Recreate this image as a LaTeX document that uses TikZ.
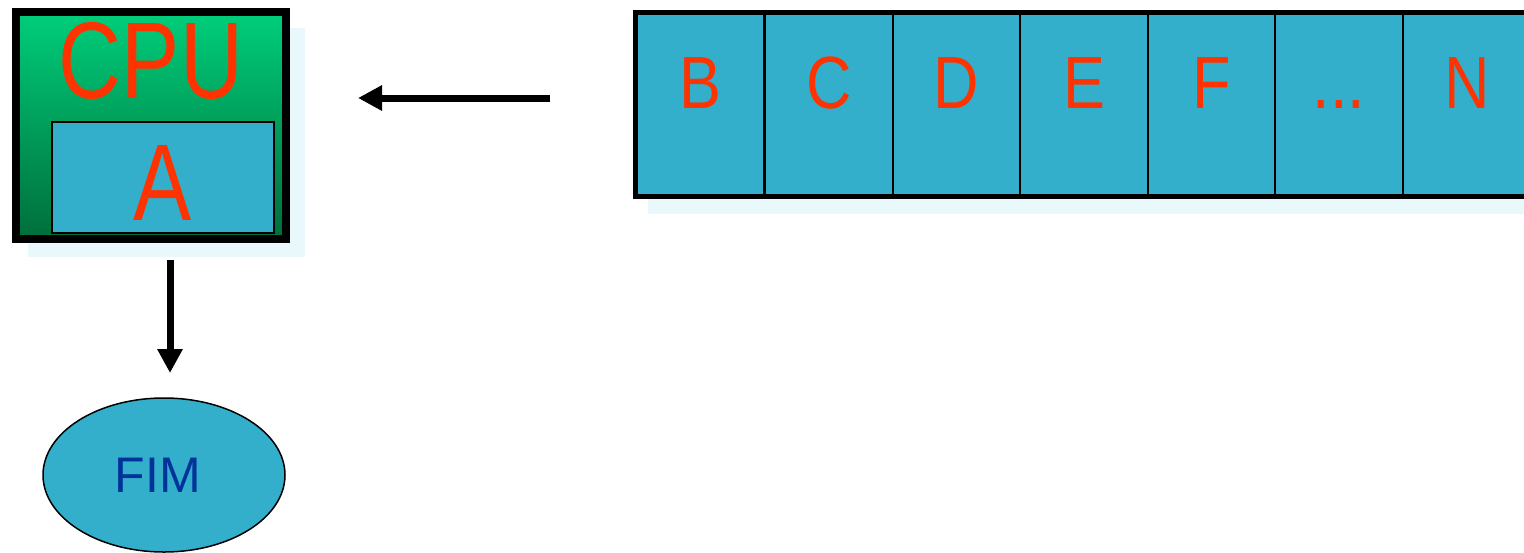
\documentclass[tikz,border=0pt]{standalone}
\usepackage{fontspec}
\setmainfont{Liberation Sans}
\usepackage{graphicx}
\usetikzlibrary{arrows.meta,shapes.geometric}

\definecolor{boxcyan}{RGB}{51,174,203}
\definecolor{labelred}{RGB}{255,51,0}
\definecolor{cputop}{RGB}{0,206,122}
\definecolor{cpubottom}{RGB}{0,110,60}
\definecolor{fimblue}{RGB}{0,51,153}
\definecolor{shadowcyan}{RGB}{232,248,251}

\newcommand{\squeeze}[2]{\scalebox{#1}[1]{#2}}

\begin{document}
\begin{tikzpicture}[x=0.5pt, y=-0.5pt]
	\tikzset{cpubox/.style = {draw, line width=4pt, top color=cputop, bottom color=cpubottom, minimum width=135pt, inner sep=0pt, text height=43pt, text depth=70.5pt, text=labelred, font=\fontsize{54.5}{60}\selectfont}}
	\tikzset{reg/.style = {draw, line width=0.75pt, fill=boxcyan, minimum width=111pt, inner sep=0pt, text height=49.25pt, text depth=6.25pt, text=labelred, font=\fontsize{54.5}{60}\selectfont}}
	\tikzset{cell/.style = {draw, line width=1pt, fill=boxcyan, minimum width=63.75pt, inner sep=0pt, text height=47.75pt, text depth=43.25pt, text=labelred, font=\fontsize{37}{40}\selectfont}}
	\tikzset{endnode/.style = {ellipse, draw, line width=0.75pt, fill=boxcyan, minimum width=121pt, minimum height=77pt, inner sep=0pt, text=fimblue, font=\fontsize{25}{28}\selectfont}}
	\tikzset{edge/.style = {-{Triangle[length=12pt, width=12pt]}, line width=3.5pt}}
	\useasboundingbox (0,0) rectangle (1524,552);
	% soft shadows
	\fill[shadowcyan] (28,28) rectangle (305,257);
	\fill[shadowcyan] (648,30) rectangle (1540,214);
	% processor
	\node[cpubox] (cpu) at (151,125.5) {\squeeze{0.8}{CPU}};
	\node[reg] (a) at (163,177.5) {\squeeze{0.8}{A}};
	% queue
	\node[cell] (b) at (700,104) {\squeeze{0.85}{B}};
	\node[cell] (c) at (829,104) {\squeeze{0.85}{C}};
	\node[cell] (d) at (956.5,104) {\squeeze{0.85}{D}};
	\node[cell] (e) at (1084,104) {\squeeze{0.85}{E}};
	\node[cell] (f) at (1211.5,104) {\squeeze{0.85}{F}};
	\node[cell] (dots) at (1339,104) {\squeeze{0.85}{...}};
	\node[cell] (n) at (1466.75,104) {\squeeze{0.85}{N}};
	\draw[line width=2.5pt] (n.north east) -- (b.north west) -- (b.south west) -- (n.south east);
	% end
	\node[endnode] (fim) at (164,475) {\raisebox{-2.5pt}{FIM}\kern6pt};
	\coordinate (qtail) at (550,98);
	\coordinate (qhead) at (358,98);
	\coordinate (ctail) at (170,260);
	\coordinate (chead) at (170,373);
	\draw[edge] (qtail) to (qhead);
	\draw[edge] (ctail) to (chead);
\end{tikzpicture}
\end{document}
